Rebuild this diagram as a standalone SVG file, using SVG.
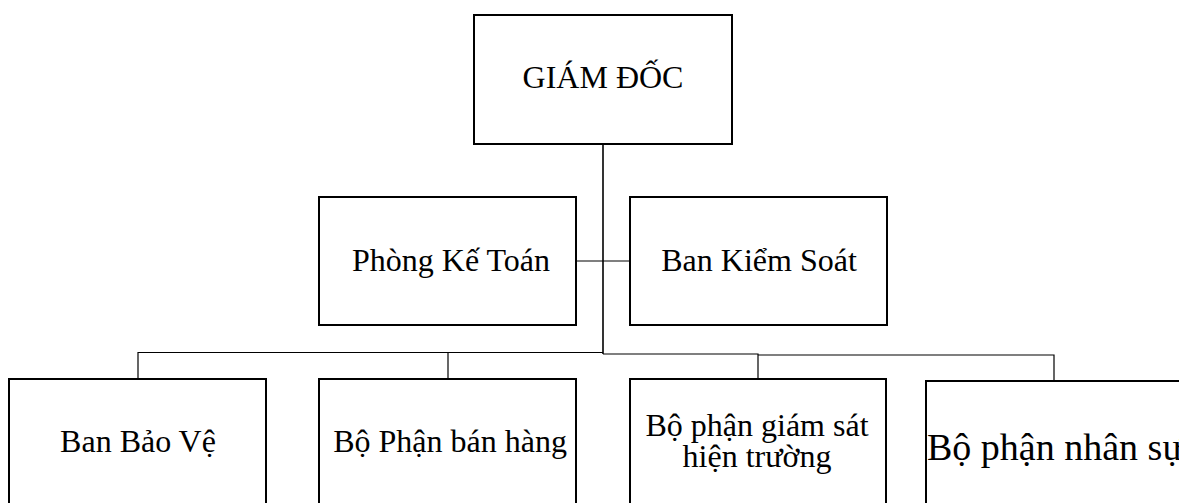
<svg xmlns="http://www.w3.org/2000/svg" width="1179" height="503" viewBox="0 0 1179 503">
  <style>
    .box { fill: #ffffff; stroke: #000000; stroke-width: 2; }
    .lbl { font-family: "Liberation Serif", "Times New Roman", serif; font-size: 32px; fill: #000000; text-anchor: middle; }
    .big { font-size: 38px; }
    .wire { fill: none; stroke: #000000; stroke-width: 1.2; }
    .trunk { stroke-width: 1.6; }
  </style>
  <rect width="1179" height="503" fill="#ffffff"/>

  <!-- connectors -->
  <g id="connectors">
    <path class="wire trunk" d="M603 144 V354"/>
    <path class="wire" d="M576 261 H630"/>
    <path class="wire" d="M138 379 V352.5 H603"/>
    <path class="wire" d="M448 352.5 V379"/>
    <path class="wire" d="M603 354 H758 V379"/>
    <path class="wire" d="M758 355 H1054 V381"/>
  </g>

  <g id="giam-doc">
    <rect class="box" x="474" y="15" width="258" height="129"/>
    <text class="lbl" x="603" y="88">GIÁM ĐỐC</text>
  </g>

  <g id="phong-ke-toan">
    <rect class="box" x="319" y="197" width="257" height="128"/>
    <text class="lbl" x="451" y="271">Phòng Kế Toán</text>
  </g>

  <g id="ban-kiem-soat">
    <rect class="box" x="630" y="197" width="257" height="128"/>
    <text class="lbl" x="759" y="271">Ban Kiểm Soát</text>
  </g>

  <g id="ban-bao-ve">
    <rect class="box" x="9" y="379" width="257" height="128"/>
    <text class="lbl" x="138" y="452">Ban Bảo Vệ</text>
  </g>

  <g id="bo-phan-ban-hang">
    <rect class="box" x="319" y="379" width="257" height="128"/>
    <text class="lbl" x="450" y="452">Bộ Phận bán hàng</text>
  </g>

  <g id="bo-phan-giam-sat">
    <rect class="box" x="630" y="379" width="256" height="128"/>
    <text class="lbl" x="757" y="436">Bộ phận giám sát</text>
    <text class="lbl" x="757" y="467">hiện trường</text>
  </g>

  <g id="bo-phan-nhan-su">
    <rect class="box" x="926" y="381" width="258" height="128"/>
    <text class="lbl big" x="1055" y="460">Bộ phận nhân sự</text>
  </g>
</svg>
